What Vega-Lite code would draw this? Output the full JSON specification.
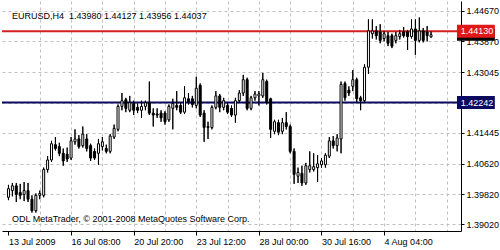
{
 "$schema": "https://vega.github.io/schema/vega-lite/v6.json",
 "autosize": {"type": "none"},
 "width": 459,
 "height": 230,
 "padding": {"left": 2, "top": 1, "right": 39, "bottom": 19},
 "background": "white",
 "config": {"view": {"stroke": null}, "font": "Liberation Sans", "axis": {"labelOverlap": false, "labelFlush": false, "zindex": 0}},
 "datasets": {
  "candles": [
   {"i":0,"o":1.39736,"h":1.40065,"l":1.39661,"c":1.39964},
   {"i":1,"o":1.39914,"h":1.40116,"l":1.39762,"c":1.40040},
   {"i":2,"o":1.40040,"h":1.40116,"l":1.39610,"c":1.39812},
   {"i":3,"o":1.39863,"h":1.40091,"l":1.39686,"c":1.39787},
   {"i":4,"o":1.39812,"h":1.40141,"l":1.39635,"c":1.39914},
   {"i":5,"o":1.39914,"h":1.40116,"l":1.39610,"c":1.39686},
   {"i":6,"o":1.39686,"h":1.39787,"l":1.39332,"c":1.39382},
   {"i":7,"o":1.39382,"h":1.39838,"l":1.39332,"c":1.39787},
   {"i":8,"o":1.39787,"h":1.39914,"l":1.39686,"c":1.39838},
   {"i":9,"o":1.39787,"h":1.40521,"l":1.39736,"c":1.40470},
   {"i":10,"o":1.40470,"h":1.40824,"l":1.40394,"c":1.40723},
   {"i":11,"o":1.40723,"h":1.41229,"l":1.40673,"c":1.41153},
   {"i":12,"o":1.41128,"h":1.41330,"l":1.40976,"c":1.41027},
   {"i":13,"o":1.41077,"h":1.41179,"l":1.40824,"c":1.40900},
   {"i":14,"o":1.40900,"h":1.41027,"l":1.40571,"c":1.40698},
   {"i":15,"o":1.40875,"h":1.41052,"l":1.40673,"c":1.40749},
   {"i":16,"o":1.40774,"h":1.41330,"l":1.40723,"c":1.41229},
   {"i":17,"o":1.41204,"h":1.41533,"l":1.41128,"c":1.41280},
   {"i":18,"o":1.41280,"h":1.41381,"l":1.41027,"c":1.41077},
   {"i":19,"o":1.41103,"h":1.41609,"l":1.41052,"c":1.41406},
   {"i":20,"o":1.41280,"h":1.41406,"l":1.40951,"c":1.41027},
   {"i":21,"o":1.41103,"h":1.41153,"l":1.40698,"c":1.40774},
   {"i":22,"o":1.40951,"h":1.41027,"l":1.40723,"c":1.40774},
   {"i":23,"o":1.40900,"h":1.41280,"l":1.40597,"c":1.41153},
   {"i":24,"o":1.41077,"h":1.41330,"l":1.40976,"c":1.41204},
   {"i":25,"o":1.41027,"h":1.41128,"l":1.40900,"c":1.40951},
   {"i":26,"o":1.40951,"h":1.41406,"l":1.40900,"c":1.41356},
   {"i":27,"o":1.41330,"h":1.41659,"l":1.41280,"c":1.41558},
   {"i":28,"o":1.41533,"h":1.42191,"l":1.41482,"c":1.42140},
   {"i":29,"o":1.42140,"h":1.42494,"l":1.42039,"c":1.42292},
   {"i":30,"o":1.42317,"h":1.42368,"l":1.41988,"c":1.42089},
   {"i":31,"o":1.42039,"h":1.42418,"l":1.41988,"c":1.42241},
   {"i":32,"o":1.42216,"h":1.42292,"l":1.41912,"c":1.42039},
   {"i":33,"o":1.42115,"h":1.42216,"l":1.41963,"c":1.42039},
   {"i":34,"o":1.42039,"h":1.42292,"l":1.41836,"c":1.42140},
   {"i":35,"o":1.42140,"h":1.42292,"l":1.42039,"c":1.42241},
   {"i":36,"o":1.42241,"h":1.42798,"l":1.41912,"c":1.41963},
   {"i":37,"o":1.41963,"h":1.42089,"l":1.41609,"c":1.41912},
   {"i":38,"o":1.41938,"h":1.42089,"l":1.41836,"c":1.41912},
   {"i":39,"o":1.41963,"h":1.42039,"l":1.41735,"c":1.41836},
   {"i":40,"o":1.41963,"h":1.42013,"l":1.41659,"c":1.41735},
   {"i":41,"o":1.41786,"h":1.42191,"l":1.41735,"c":1.42140},
   {"i":42,"o":1.42089,"h":1.42342,"l":1.41533,"c":1.42216},
   {"i":43,"o":1.42165,"h":1.42545,"l":1.42039,"c":1.42115},
   {"i":44,"o":1.42165,"h":1.42241,"l":1.41938,"c":1.41988},
   {"i":45,"o":1.41988,"h":1.42671,"l":1.41938,"c":1.42368},
   {"i":46,"o":1.42342,"h":1.42494,"l":1.42191,"c":1.42266},
   {"i":47,"o":1.42342,"h":1.42418,"l":1.42115,"c":1.42191},
   {"i":48,"o":1.42165,"h":1.42924,"l":1.42089,"c":1.42621},
   {"i":49,"o":1.42697,"h":1.42747,"l":1.41862,"c":1.41912},
   {"i":50,"o":1.41963,"h":1.42039,"l":1.41204,"c":1.41583},
   {"i":51,"o":1.41609,"h":1.41735,"l":1.41280,"c":1.41583},
   {"i":52,"o":1.41583,"h":1.42165,"l":1.41533,"c":1.42115},
   {"i":53,"o":1.42115,"h":1.42545,"l":1.42064,"c":1.42418},
   {"i":54,"o":1.42418,"h":1.42469,"l":1.41988,"c":1.42115},
   {"i":55,"o":1.42115,"h":1.42368,"l":1.42039,"c":1.42292},
   {"i":56,"o":1.42165,"h":1.42241,"l":1.41938,"c":1.41988},
   {"i":57,"o":1.42089,"h":1.42165,"l":1.41862,"c":1.41912},
   {"i":58,"o":1.41912,"h":1.42368,"l":1.41710,"c":1.42292},
   {"i":59,"o":1.42292,"h":1.42570,"l":1.42241,"c":1.42494},
   {"i":60,"o":1.42494,"h":1.42975,"l":1.42418,"c":1.42848},
   {"i":61,"o":1.42848,"h":1.42899,"l":1.42039,"c":1.42089},
   {"i":62,"o":1.42089,"h":1.42418,"l":1.42039,"c":1.42368},
   {"i":63,"o":1.42368,"h":1.42545,"l":1.42292,"c":1.42469},
   {"i":64,"o":1.42418,"h":1.42545,"l":1.42165,"c":1.42469},
   {"i":65,"o":1.42418,"h":1.43026,"l":1.42368,"c":1.42848},
   {"i":66,"o":1.42798,"h":1.42848,"l":1.42191,"c":1.42241},
   {"i":67,"o":1.42342,"h":1.42368,"l":1.41305,"c":1.41533},
   {"i":68,"o":1.41482,"h":1.41786,"l":1.41406,"c":1.41735},
   {"i":69,"o":1.41710,"h":1.41786,"l":1.41381,"c":1.41457},
   {"i":70,"o":1.41482,"h":1.41836,"l":1.41406,"c":1.41710},
   {"i":71,"o":1.41710,"h":1.41988,"l":1.41533,"c":1.41609},
   {"i":72,"o":1.41609,"h":1.41659,"l":1.40900,"c":1.40951},
   {"i":73,"o":1.40951,"h":1.41027,"l":1.40091,"c":1.40344},
   {"i":74,"o":1.40293,"h":1.40521,"l":1.40116,"c":1.40394},
   {"i":75,"o":1.40369,"h":1.40571,"l":1.40040,"c":1.40116},
   {"i":76,"o":1.40116,"h":1.40647,"l":1.40065,"c":1.40571},
   {"i":77,"o":1.40470,"h":1.40951,"l":1.40394,"c":1.40571},
   {"i":78,"o":1.40470,"h":1.40900,"l":1.40420,"c":1.40546},
   {"i":79,"o":1.40521,"h":1.40850,"l":1.40141,"c":1.40622},
   {"i":80,"o":1.40597,"h":1.40774,"l":1.40521,"c":1.40698},
   {"i":81,"o":1.40597,"h":1.40900,"l":1.40521,"c":1.40850},
   {"i":82,"o":1.40824,"h":1.41330,"l":1.40774,"c":1.41229},
   {"i":83,"o":1.41229,"h":1.41356,"l":1.41027,"c":1.41103},
   {"i":84,"o":1.41103,"h":1.41406,"l":1.40951,"c":1.41305},
   {"i":85,"o":1.41280,"h":1.42798,"l":1.40900,"c":1.42722},
   {"i":86,"o":1.42747,"h":1.42798,"l":1.42292,"c":1.42368},
   {"i":87,"o":1.42570,"h":1.42671,"l":1.42418,"c":1.42494},
   {"i":88,"o":1.42671,"h":1.43101,"l":1.42545,"c":1.42848},
   {"i":89,"o":1.42848,"h":1.42899,"l":1.42241,"c":1.42342},
   {"i":90,"o":1.42368,"h":1.42418,"l":1.42039,"c":1.42292},
   {"i":91,"o":1.42292,"h":1.43253,"l":1.42241,"c":1.43177},
   {"i":92,"o":1.43177,"h":1.44442,"l":1.43000,"c":1.44139},
   {"i":93,"o":1.44063,"h":1.44442,"l":1.43936,"c":1.44139},
   {"i":94,"o":1.44139,"h":1.44265,"l":1.43911,"c":1.44012},
   {"i":95,"o":1.44113,"h":1.44316,"l":1.43810,"c":1.43886},
   {"i":96,"o":1.43936,"h":1.44139,"l":1.43860,"c":1.44063},
   {"i":97,"o":1.44012,"h":1.44113,"l":1.43734,"c":1.43810},
   {"i":98,"o":1.44012,"h":1.44063,"l":1.43683,"c":1.43734},
   {"i":99,"o":1.43886,"h":1.44113,"l":1.43810,"c":1.44012},
   {"i":100,"o":1.43987,"h":1.44164,"l":1.43911,"c":1.44063},
   {"i":101,"o":1.44113,"h":1.44240,"l":1.43962,"c":1.44012},
   {"i":102,"o":1.44113,"h":1.44164,"l":1.43633,"c":1.43987},
   {"i":103,"o":1.43987,"h":1.44442,"l":1.43936,"c":1.44189},
   {"i":104,"o":1.44189,"h":1.44442,"l":1.43506,"c":1.43886},
   {"i":105,"o":1.43886,"h":1.44493,"l":1.43835,"c":1.44139},
   {"i":106,"o":1.44139,"h":1.44215,"l":1.43835,"c":1.43886},
   {"i":107,"o":1.44113,"h":1.44265,"l":1.43860,"c":1.44012},
   {"i":108,"o":1.43980,"h":1.44127,"l":1.43956,"c":1.44037}
  ]
 },
 "layer": [
  {
   "data": {"name": "candles"},
   "mark": {"type": "rule", "color": "black", "strokeWidth": 1},
   "encoding": {
    "x": {"field": "i", "type": "quantitative",
     "scale": {"type": "linear", "domain": [-0.375, 114.375], "nice": false, "zero": false},
     "axis": {
      "title": null,
      "zindex": 0,
      "tickCount": 40,
      "values": [0, 8, 16, 24, 32, 40, 48, 56, 64, 72, 80, 88, 96, 104, 112],
      "labelExpr": "datum.value == 0 ? '13 Jul 2009' : datum.value == 16 ? '16 Jul 08:00' : datum.value == 32 ? '20 Jul 20:00' : datum.value == 48 ? '23 Jul 12:00' : datum.value == 64 ? '28 Jul 00:00' : datum.value == 80 ? '30 Jul 16:00' : datum.value == 96 ? '4 Aug 04:00' : ''",
      "labelAlign": "left",
      "labelBaseline": "top",
      "labelFont": "Liberation Sans",
      "labelFontSize": 9,
      "labelColor": "black",
      "labelPadding": 2,
      "labelFlush": false,
      "labelOverlap": false,
      "tickSize": 4,
      "tickColor": "black",
      "tickOpacity": {"condition": {"test": "datum.value % 16 === 0 && datum.value < 100", "value": 1}, "value": 0},
      "domainColor": "black",
      "domainWidth": 1,
      "grid": true,
      "gridColor": "#c0c0c0",
      "gridDash": [3, 3],
      "gridOpacity": {"condition": {"test": "datum.value === 0", "value": 0}, "value": 1}
     }
    },
    "y": {"field": "l", "type": "quantitative",
     "scale": {"domain": [1.389767, 1.447965], "nice": false, "zero": false},
     "axis": {
      "title": null,
      "zindex": 0,
      "orient": "right",
      "tickCount": 40,
      "values": [1.4467, 1.4387, 1.43045, 1.42242, 1.41445, 1.4062, 1.3982, 1.3902],
      "labelExpr": "abs(datum.value - 1.42242) < 0.000001 ? '' : format(datum.value, '.5f')",
      "labelFont": "Liberation Sans",
      "labelFontSize": 9,
      "labelColor": "black",
      "labelPadding": 2,
      "tickSize": 3,
      "tickColor": "black",
      "domainColor": "black",
      "labelOverlap": false,
      "labelFlush": false,
      "grid": true,
      "gridColor": "#c0c0c0",
      "gridDash": [3, 3]
     }
    },
    "y2": {"field": "h"}
   }
  },
  {
   "data": {"values": [{"price": 1.4413}]},
   "mark": {"type": "rule", "color": "#d42020", "strokeWidth": 2},
   "encoding": {"y": {"field": "price", "type": "quantitative"}}
  },
  {
   "data": {"values": [{"price": 1.42242}]},
   "mark": {"type": "rule", "color": "#0a0a60", "strokeWidth": 2},
   "encoding": {"y": {"field": "price", "type": "quantitative"}}
  },
  {
   "data": {"name": "candles"},
   "mark": {"type": "rule", "color": "black", "strokeWidth": 1},
   "encoding": {
    "x": {"field": "i", "type": "quantitative"},
    "y": {"field": "l", "type": "quantitative"},
    "y2": {"field": "h"}
   }
  },
  {
   "data": {"name": "candles"},
   "mark": {"type": "bar", "orient": "vertical", "size": 2, "stroke": "black", "strokeWidth": 1},
   "encoding": {
    "x": {"field": "i", "type": "quantitative"},
    "y": {"field": "o", "type": "quantitative"},
    "y2": {"field": "c"},
    "fill": {"condition": {"test": "datum.c >= datum.o", "value": "white"}, "value": "black"}
   }
  },
  {
   "data": {"values": [{"price": 1.44037}]},
   "mark": {"type": "bar", "orient": "horizontal", "size": 12, "color": "black"},
   "encoding": {"x": {"datum": 114.625}, "x2": {"datum": 124.3}, "y": {"field": "price", "type": "quantitative"}}
  },
  {
   "data": {"values": [{"price": 1.4413}]},
   "layer": [
    {
     "mark": {"type": "bar", "orient": "horizontal", "size": 13, "color": "#e01818"},
     "encoding": {"x": {"datum": 114.625}, "x2": {"datum": 124.3}, "y": {"field": "price", "type": "quantitative"}}
    },
    {
     "mark": {"type": "text", "align": "left", "baseline": "middle", "color": "white", "font": "Liberation Sans", "fontSize": 9},
     "encoding": {"x": {"datum": 115.6}, "y": {"field": "price", "type": "quantitative"}, "text": {"field": "price", "format": ".5f"}}
    }
   ]
  },
  {
   "data": {"values": [{"price": 1.42242}]},
   "layer": [
    {
     "mark": {"type": "bar", "orient": "horizontal", "size": 13, "color": "#0a0a60"},
     "encoding": {"x": {"datum": 114.625}, "x2": {"datum": 124.3}, "y": {"field": "price", "type": "quantitative"}}
    },
    {
     "mark": {"type": "text", "align": "left", "baseline": "middle", "color": "white", "font": "Liberation Sans", "fontSize": 9},
     "encoding": {"x": {"datum": 115.6}, "y": {"field": "price", "type": "quantitative"}, "text": {"field": "price", "format": ".5f"}}
    }
   ]
  },
  {
   "data": {"values": [{"label": "EURUSD,H4\u00a0\u00a01.43980 1.44127 1.43956 1.44037", "x": 0.9, "y": 1.44531}, {"label": "ODL MetaTrader, © 2001-2008 MetaQuotes Software Corp.", "x": 0.9, "y": 1.39154}]},
   "mark": {"type": "text", "align": "left", "baseline": "middle", "color": "black", "font": "Liberation Sans", "fontSize": 9},
   "encoding": {
    "x": {"field": "x", "type": "quantitative"},
    "y": {"field": "y", "type": "quantitative"},
    "text": {"field": "label"}
   }
  }
 ]
}
